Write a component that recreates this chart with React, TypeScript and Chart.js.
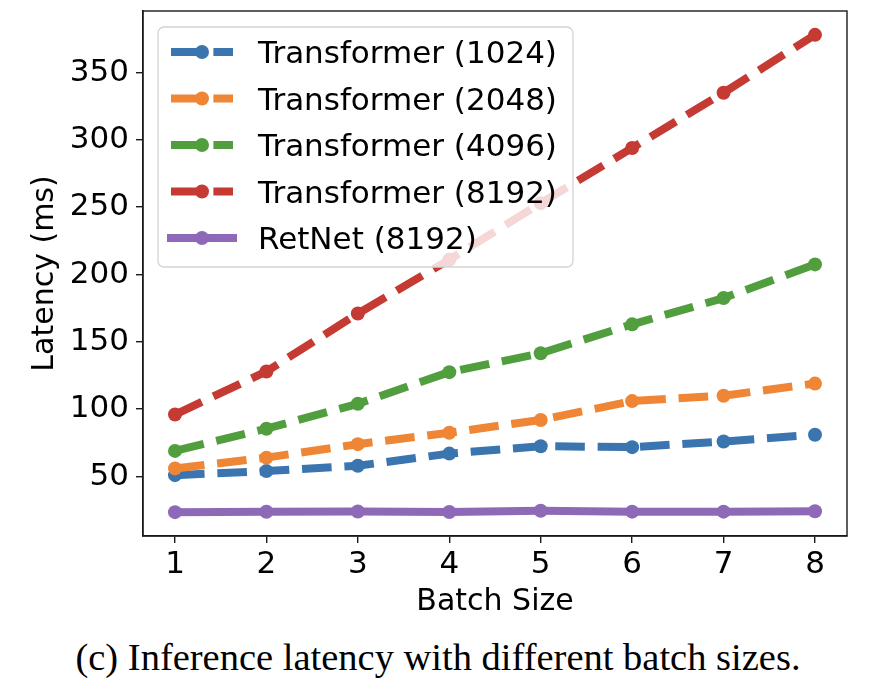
import React, { useEffect, useRef } from "react";
import { Chart, registerables } from "chart.js";

Chart.register(...registerables);

// ---- data ----
const batchSizes = [1, 2, 3, 4, 5, 6, 7, 8];
const transformer1024 = [51, 54, 58, 67, 72.5, 71.8, 76, 81];
const transformer2048 = [56, 64, 74, 82.5, 92, 106, 110, 119];
const transformer4096 = [69, 85.5, 104, 127.5, 141.5, 163, 182.5, 207.5];
const transformer8192 = [96, 128, 171, 211, 253, 294, 335, 378];
const retnet8192 = [23.5, 23.8, 24, 23.6, 24.5, 23.9, 23.9, 24.2];
const seriesLabels = [
  "Transformer (1024)",
  "Transformer (2048)",
  "Transformer (4096)",
  "Transformer (8192)",
  "RetNet (8192)",
];
const yTickValues = [50, 100, 150, 200, 250, 300, 350];
const xTickValues = [1, 2, 3, 4, 5, 6, 7, 8];
const xLabel = "Batch Size";
const yLabel = "Latency (ms)";
const caption = "(c) Inference latency with different batch sizes.";

const colors = ["#3b75af", "#ef8636", "#519e3e", "#c53a32", "#8d69b8"];
const LW = 8;
const DASH = [29.6, 12.8];
const FONT = '"DejaVu Sans", "Noto Sans", sans-serif';

const framePlugin = {
  id: "mplFrame",
  afterDatasetsDraw(chart: any) {
    const { ctx, chartArea: ca } = chart;
    ctx.save();
    ctx.strokeStyle = "#1a1a1a";
    ctx.lineWidth = 1.4;
    ctx.setLineDash([]);
    ctx.strokeRect(ca.left, ca.top, ca.right - ca.left, ca.bottom - ca.top);
    ctx.restore();
  },
};

const legendPlugin = {
  id: "mplLegend",
  afterDraw(chart: any) {
    const { ctx, chartArea: ca } = chart;
    const ds = chart.data.datasets;
    const fs = 31;
    ctx.save();
    ctx.font = `${fs}px ${FONT}`;
    const x0 = ca.left + 15;
    const y0 = ca.top + 16;
    const padL = 13;
    const handleLen = 62;
    const textGap = 25;
    const rowH = 46.5;
    let maxW = 0;
    ds.forEach((d: any) => {
      maxW = Math.max(maxW, ctx.measureText(d.label).width);
    });
    const w = padL + handleLen + textGap + maxW + 16;
    const h = 25 + rowH * (ds.length - 1) + 29;
    ctx.beginPath();
    (ctx as any).roundRect(x0, y0, w, h, 6);
    ctx.fillStyle = "rgba(255,255,255,0.8)";
    ctx.fill();
    ctx.strokeStyle = "#d4d4d4";
    ctx.lineWidth = 1.3;
    ctx.stroke();
    ds.forEach((d: any, i: number) => {
      const cy = y0 + 25 + rowH * i;
      const hx = x0 + padL;
      ctx.beginPath();
      ctx.strokeStyle = d.borderColor;
      ctx.lineWidth = LW;
      const dash = d.borderDash || [];
      ctx.setLineDash(dash);
      ctx.lineCap = dash.length ? "butt" : "square";
      ctx.moveTo(hx, cy);
      ctx.lineTo(hx + handleLen, cy);
      ctx.stroke();
      ctx.setLineDash([]);
      ctx.beginPath();
      ctx.fillStyle = d.borderColor;
      ctx.arc(hx + handleLen / 2, cy, 7, 0, Math.PI * 2);
      ctx.fill();
      ctx.fillStyle = "#000";
      ctx.textBaseline = "alphabetic";
      ctx.textAlign = "left";
      ctx.fillText(d.label, hx + handleLen + textGap, cy + 11.3);
    });
    ctx.restore();
  },
};

export default function App() {
  const canvasRef = useRef<HTMLCanvasElement | null>(null);

  useEffect(() => {
    if (!canvasRef.current) return;
    const series = [transformer1024, transformer2048, transformer4096, transformer8192, retnet8192];
    const datasets = series.map((vals, i) => {
      const solid = i === 4;
      return {
        label: seriesLabels[i],
        data: batchSizes.map((x, j) => ({ x, y: vals[j] })),
        borderColor: colors[i],
        backgroundColor: colors[i],
        pointBackgroundColor: colors[i],
        pointBorderColor: colors[i],
        pointBorderWidth: 0,
        pointRadius: 7,
        pointHoverRadius: 7,
        borderWidth: LW,
        borderDash: solid ? [] : DASH,
        borderCapStyle: solid ? "square" : "butt",
        borderJoinStyle: "round",
        tension: 0,
        fill: false,
        order: 5 - i,
      };
    });

    const chart = new Chart(canvasRef.current, {
      type: "line",
      data: { datasets } as any,
      options: {
        animation: false,
        responsive: false,
        events: [],
        layout: { padding: { left: 0, right: 39, top: 11, bottom: 0 } },
        plugins: {
          legend: { display: false },
          tooltip: { enabled: false },
          title: { display: false },
        },
        scales: {
          x: {
            type: "linear",
            min: 0.65,
            max: 8.35,
            afterBuildTicks: (s: any) => {
              s.ticks = xTickValues.map((v) => ({ value: v }));
            },
            afterFit: (s: any) => {
              s.height = 84;
              s.paddingLeft = 0;
              s.paddingRight = 0;
              s.paddingTop = 0;
              s.paddingBottom = 0;
            },
            grid: {
              display: true,
              drawOnChartArea: false,
              drawTicks: true,
              tickLength: 7,
              color: "#1a1a1a",
              lineWidth: 1.4,
            },
            border: { display: true, color: "#1a1a1a", width: 1.4 },
            ticks: {
              color: "#000",
              font: { family: FONT, size: 31 },
              padding: 3,
              maxRotation: 0,
              autoSkip: false,
              callback: (v: any) => String(v),
            },
            title: {
              display: true,
              text: xLabel,
              color: "#000",
              font: { family: FONT, size: 30 },
              padding: { top: 0, bottom: 0 },
            },
          },
          y: {
            type: "linear",
            min: 5.8,
            max: 395.7,
            afterBuildTicks: (s: any) => {
              s.ticks = yTickValues.map((v) => ({ value: v }));
            },
            afterFit: (s: any) => {
              s.width = 143;
              s.paddingLeft = 0;
              s.paddingRight = 0;
              s.paddingTop = 0;
              s.paddingBottom = 0;
            },
            grid: {
              display: true,
              drawOnChartArea: false,
              drawTicks: true,
              tickLength: 7,
              color: "#1a1a1a",
              lineWidth: 1.4,
            },
            border: { display: true, color: "#1a1a1a", width: 1.4 },
            ticks: {
              color: "#000",
              font: { family: FONT, size: 31 },
              padding: 7,
              autoSkip: false,
              callback: (v: any) => String(v),
            },
            title: {
              display: true,
              text: yLabel,
              color: "#000",
              font: { family: FONT, size: 30 },
              padding: { top: 27, bottom: 0 },
            },
          },
        },
      } as any,
      plugins: [framePlugin, legendPlugin],
    });
    return () => chart.destroy();
  }, []);

  return (
    <div
      style={{
        position: "absolute",
        left: 0,
        top: 0,
        width: 886,
        height: 696,
        background: "#fff",
        overflow: "hidden",
      }}
    >
      <canvas
        ref={canvasRef}
        width={886}
        height={620}
        style={{ position: "absolute", left: 0, top: 0, width: 886, height: 620 }}
      />
      <div
        style={{
          position: "absolute",
          left: 0,
          top: 638,
          width: 876,
          textAlign: "center",
          fontFamily: '"Liberation Serif", "Times New Roman", serif',
          fontSize: "38.5px",
          lineHeight: "38.5px",
          color: "#000",
          whiteSpace: "nowrap",
        }}
      >
        {caption}
      </div>
    </div>
  );
}
